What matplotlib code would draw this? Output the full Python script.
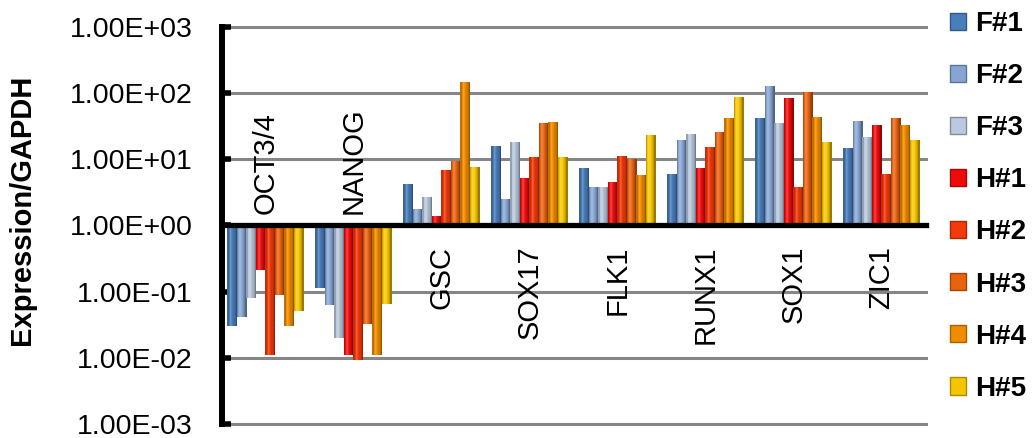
import numpy as np
import matplotlib
matplotlib.use("Agg")
from matplotlib import pyplot as plt
from matplotlib.patches import Patch
from matplotlib import colors as mcolors

plt.rcParams['font.family'] = ['Liberation Sans', 'DejaVu Sans']

genes = ["OCT3/4", "NANOG", "GSC", "SOX17", "FLK1", "RUNX1", "SOX1", "ZIC1"]
samples = ["F#1", "F#2", "F#3", "H#1", "H#2", "H#3", "H#4", "H#5"]

# expression / GAPDH, one list per sample (same order as genes)
f1 = [0.030, 0.115, 4.3, 15.8, 7.3, 6.1, 42, 14.7]
f2 = [0.042, 0.063, 1.75, 2.5, 3.8, 19.4, 127, 38]
f3 = [0.079, 0.020, 2.65, 18, 3.8, 24, 35, 22]
h1 = [0.21, 0.011, 1.37, 5.2, 4.5, 7.3, 84, 32.6]
h2 = [0.011, 0.0093, 6.8, 10.7, 11.1, 15.2, 3.8, 5.9]
h3 = [0.090, 0.033, 9.3, 35, 10, 25.7, 104, 42]
h4 = [0.030, 0.011, 147, 36.5, 5.7, 42, 43, 32.6]
h5 = [0.051, 0.066, 7.6, 10.7, 23, 87, 18, 19.4]
series = [f1, f2, f3, h1, h2, h3, h4, h5]

bar_colors = ["#4a7ebb", "#86a5d3", "#b9c9df", "#ee0b0b",
              "#f23a0a", "#e8630e", "#f08c00", "#f5c600"]


def shade(c, f):
    rgb = np.array(mcolors.to_rgb(c))
    if f >= 1:
        rgb = rgb + (1 - rgb) * (f - 1)
    else:
        rgb = rgb * f
    return np.clip(rgb, 0, 1)


# cylinder-like shading across each bar (left -> right)
profile = [0.80, 1.0, 1.18, 1.08, 0.97, 0.88, 0.78, 0.62]

fig = plt.figure(figsize=(10.33, 4.38), dpi=100)
ax = fig.add_axes([221.5 / 1033, 1 - 424 / 438, 704 / 1033, 397 / 438])

x = np.arange(len(genes))
w = 0.108
nstrip = len(profile)
sw = w / nstrip
for j, vals in enumerate(series):
    vals = np.array(vals)
    xc = x + (j - 3.5) * w
    for k, f in enumerate(profile):
        xs = xc - w / 2 + (k + 0.5) * sw
        ax.bar(xs, vals - 1, bottom=1, width=sw * 1.02,
               color=shade(bar_colors[j], f), linewidth=0, zorder=3)

ax.set_yscale('log')
ax.set_ylim(1e-3, 1e3)
ax.set_xlim(-0.5, 7.5)

yt = 10.0 ** np.arange(-3, 4)
ax.set_yticks(yt)
ax.set_yticklabels(["{:.2E}".format(v) for v in yt], fontsize=20.5)
ax.minorticks_off()
ax.tick_params(axis='y', direction='in', length=6.5, width=4, pad=21, color='black')
ax.set_xticks([])

for v in yt:
    ax.axhline(v, color='#868686', lw=2.2, zorder=1, clip_on=False)
ax.axhline(1, color='black', lw=3.8, zorder=4, clip_on=False)

for s in ['top', 'right', 'bottom']:
    ax.spines[s].set_visible(False)
ax.spines['left'].set_linewidth(4.3)
ax.spines['left'].set_zorder(5)

# gene labels, above baseline when the bars go down, below otherwise
for i, g in enumerate(genes):
    col = [s[i] for s in series]
    if max(col) < 1:
        ax.annotate(g, xy=(i, 1), xytext=(0, 8), textcoords='offset points',
                    rotation=90, ha='center', va='bottom', fontsize=21, zorder=6)
    else:
        ax.annotate(g, xy=(i, 1), xytext=(0, -14.5), textcoords='offset points',
                    rotation=90, ha='center', va='top', fontsize=21, zorder=6)

fig.text(22 / 1033, 1 - 209.5 / 438, "Expression/GAPDH", rotation=90,
         ha='center', va='center', fontsize=21, fontweight='bold')

handles = [Patch(facecolor=c, edgecolor=shade(c, 0.7), linewidth=1) for c in bar_colors]
fig.legend(handles, samples, loc='upper left', bbox_to_anchor=(950 / 1033, 1 - 11 / 438),
           frameon=False, prop={'size': 20, 'weight': 'bold'},
           handlelength=0.58, handleheight=0.58, handletextpad=0.33,
           labelspacing=0.94, borderpad=0, borderaxespad=0)

fig.savefig("out.png", dpi=100)
